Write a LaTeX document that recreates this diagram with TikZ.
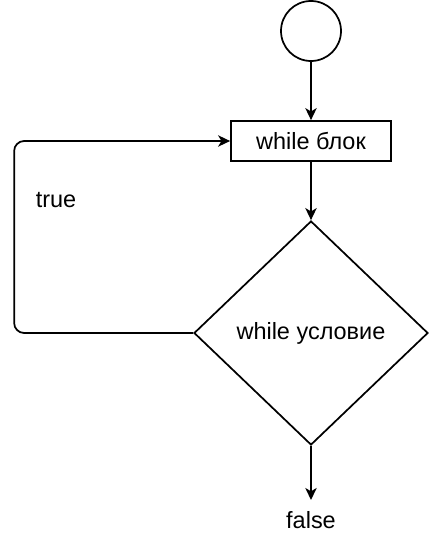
\documentclass[tikz,border=0pt]{standalone}
\usepackage{fontspec}
\setmainfont{Liberation Sans}
\usetikzlibrary{arrows.meta,positioning,shapes.geometric}

\begin{document}
\begin{tikzpicture}[x=0.75pt,y=-0.75pt,
  every node/.style={font=\fontsize{17.6}{21}\selectfont},
  ln/.style={line width=1.3pt},
  ar/.style={ln,-{Stealth[length=9pt,width=8.5pt,inset=2.5pt]}},
  st/.style={draw,ln,circle,minimum size=45pt,inner sep=0pt},
  blk/.style={draw,ln,minimum width=120pt,minimum height=30pt,inner sep=0pt},
  cnd/.style={draw,ln,diamond,minimum width=175.5pt,minimum height=168pt,inner sep=0pt}]
\useasboundingbox (0,0) rectangle (430,542);
\node[st] (start) at (311,31) {};
\node[blk] (body) at (311,141) {while блок};
\node[cnd] (cond) at (311,333) {while условие};
\coordinate (out) at (311,500);
\node (f) at (311,520) {false};
\node (t) at (56,200) {true};
\draw[ar] (start) -- (body);
\draw[ar] (body) -- (cond);
\draw[ar] (cond) -- (out);
\draw[ar,rounded corners=7.5pt] (cond.west) -- ++(-179,0) |- (body.west);
\end{tikzpicture}
\end{document}
